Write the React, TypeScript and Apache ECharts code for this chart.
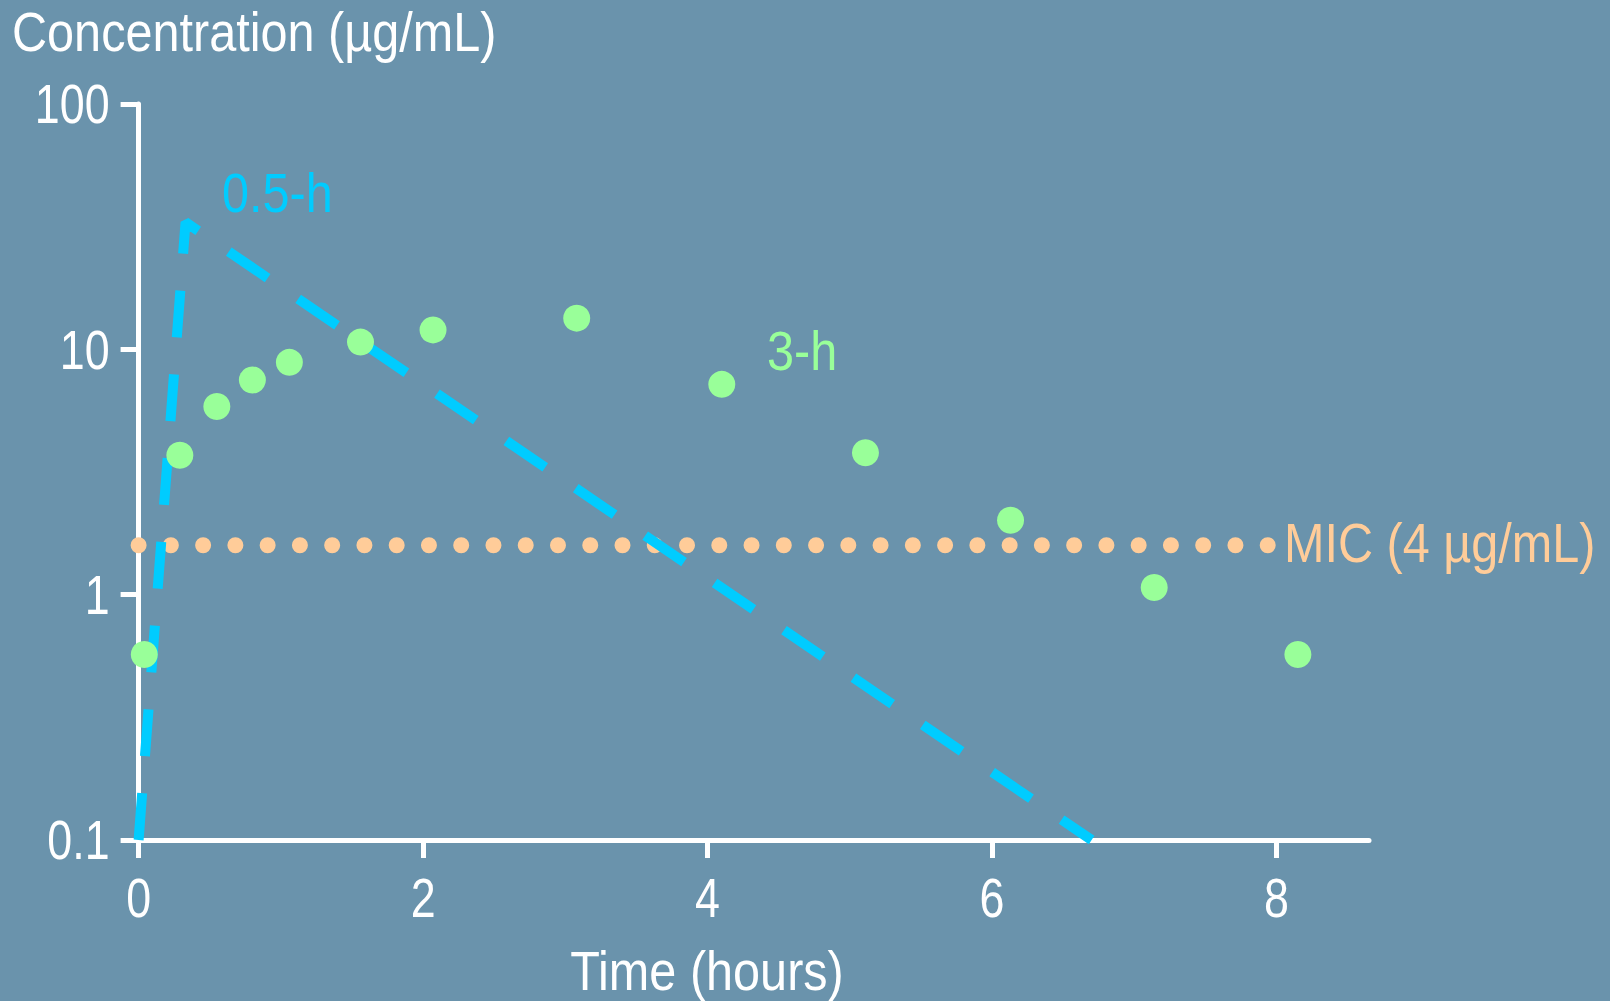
import { useEffect, useRef } from "react";
import * as echarts from "echarts";

// ---- data ----
const xTicks = [0, 2, 4, 6, 8];
const yTicks = [0.1, 1, 10, 100];

const infusion3hTimes = [0.04, 0.29, 0.55, 0.8, 1.06, 1.56, 2.07, 3.08, 4.1, 5.11, 6.13, 7.14, 8.15];
const infusion3hConc = [0.57, 3.7, 5.85, 7.5, 8.85, 10.7, 12.0, 13.4, 7.2, 3.79, 2.01, 1.07, 0.57];

const infusion05hTimes = [0, 0.33, 6.7];
const infusion05hConc = [0.1, 33, 0.1];

const micTimes = [0, 7.94];
const micConc = [1.59, 1.59];

const yTitle = "Concentration (µg/mL)";
const xTitle = "Time (hours)";
const label05h = "0.5-h";
const label3h = "3-h";
const labelMic = "MIC (4 µg/mL)";

const FONT = '"Liberation Sans Narrow", "Arial Narrow", "Liberation Sans", Arial, sans-serif';
const BG = "#6A93AC";
const WHITE = "#FFFFFF";
const BLUE = "#00CCFF";
const GREEN = "#99FF99";
const ORANGE = "#FFCC99";

const WORD_SCALE = 0.868;
const DIGIT_SCALE = 0.8;

const zip = (xs: number[], ys: number[]) => xs.map((x, i) => [x, ys[i]]);

export default function App() {
  const ref = useRef<HTMLDivElement>(null);

  useEffect(() => {
    if (!ref.current) return;
    const chart = echarts.init(ref.current, undefined, { renderer: "svg" });
    const textStyle = (text: string, fill: string, align: string = "left") => ({
      text,
      fill,
      fontSize: 56,
      fontFamily: FONT,
      align,
      verticalAlign: "middle",
    });
    chart.setOption({
      animation: false,
      backgroundColor: BG,
      grid: { left: 138.6, right: 241, top: 104, bottom: 161, containLabel: false },
      xAxis: {
        type: "value",
        min: 0,
        max: 8.65,
        splitLine: { show: false },
        axisLine: { show: true, lineStyle: { color: WHITE, width: 5 } },
        axisTick: {
          show: true,
          customValues: xTicks,
          length: 18,
          lineStyle: { color: WHITE, width: 5 },
        },
        axisLabel: { show: false, customValues: xTicks },
      },
      yAxis: {
        type: "log",
        logBase: 10,
        min: 0.1,
        max: 100,
        splitLine: { show: false },
        axisLine: { show: true, lineStyle: { color: WHITE, width: 5 } },
        axisTick: { show: true, length: 18, lineStyle: { color: WHITE, width: 5 } },
        axisLabel: { show: false },
      },
      series: [
        {
          name: "MIC",
          type: "line",
          data: zip(micTimes, micConc),
          symbol: "none",
          lineStyle: { color: ORANGE, width: 16, type: [0.01, 32.25], cap: "round" },
          z: 2,
        },
        {
          name: "0.5-h",
          type: "line",
          data: zip(infusion05hTimes, infusion05hConc),
          symbol: "none",
          lineStyle: { color: BLUE, width: 10, type: [47, 37] },
          z: 3,
        },
        {
          name: "3-h",
          type: "scatter",
          data: zip(infusion3hTimes, infusion3hConc),
          symbolSize: 27,
          itemStyle: { color: GREEN, opacity: 1 },
          z: 4,
        },
      ],
    });

    // tick labels placed through the library's own axis scales (narrowed text)
    const axisX = chart.convertToPixel({ xAxisIndex: 0 }, 0) as number;
    const axisY = chart.convertToPixel({ yAxisIndex: 0 }, yTicks[0]) as number;
    const yLabels = yTicks.map((v) => ({
      type: "text",
      x: axisX - 29,
      y: chart.convertToPixel({ yAxisIndex: 0 }, v) as number,
      scaleX: DIGIT_SCALE,
      style: textStyle(String(v), WHITE, "right"),
    }));
    const xLabels = xTicks.map((v) => ({
      type: "text",
      x: chart.convertToPixel({ xAxisIndex: 0 }, v) as number,
      y: axisY + 58,
      scaleX: DIGIT_SCALE,
      style: textStyle(String(v), WHITE, "center"),
    }));

    chart.setOption({
      graphic: [
        ...yLabels,
        ...xLabels,
        { type: "text", x: 12, y: 32, scaleX: WORD_SCALE, style: textStyle(yTitle, WHITE) },
        { type: "text", x: 707, y: 971, scaleX: WORD_SCALE, style: textStyle(xTitle, WHITE, "center") },
        { type: "text", x: 222, y: 193, scaleX: WORD_SCALE, style: textStyle(label05h, BLUE) },
        { type: "text", x: 767, y: 351, scaleX: WORD_SCALE, style: textStyle(label3h, GREEN) },
        { type: "text", x: 1284, y: 543, scaleX: WORD_SCALE, style: textStyle(labelMic, ORANGE) },
      ],
    });
    return () => chart.dispose();
  }, []);

  return (
    <div
      ref={ref}
      style={{ position: "fixed", left: 0, top: 0, width: 1610, height: 1001, background: BG }}
    />
  );
}
